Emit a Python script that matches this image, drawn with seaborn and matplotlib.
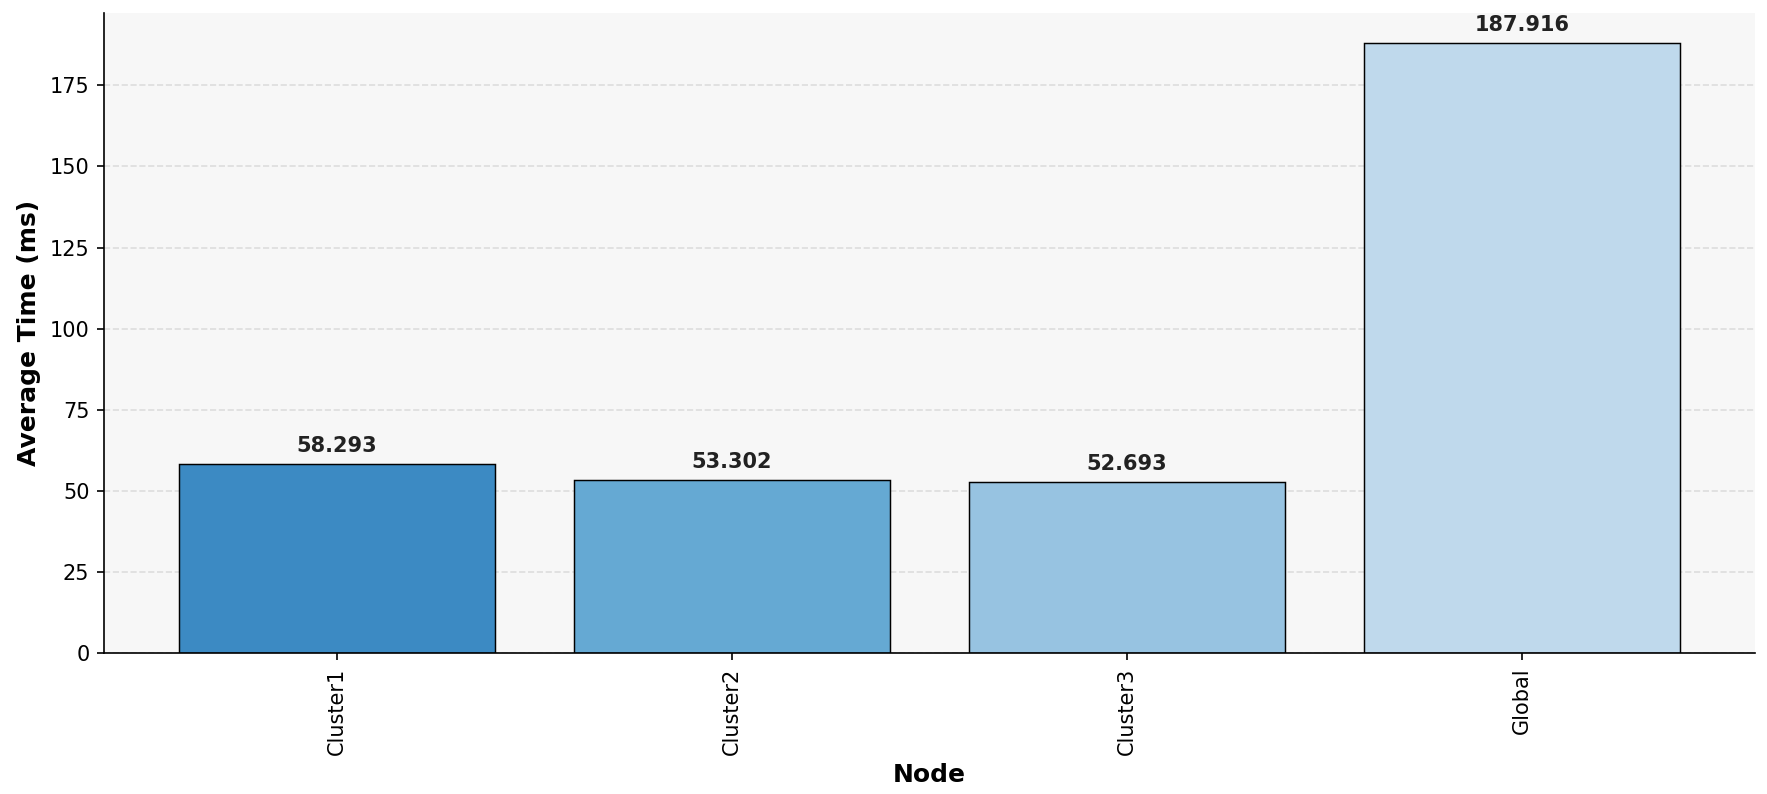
import matplotlib
matplotlib.use('Agg')
import pandas as pd
import seaborn as sns
import matplotlib.pyplot as plt

# values
nodes = ['Cluster1', 'Cluster2', 'Cluster3', 'Global']
avg_time = [58.293, 53.302, 52.693, 187.916]
bar_colors = ['#3c8ac3', '#65a9d3', '#97c3e1', '#bfd9ec']

df = pd.DataFrame({'Node': nodes, 'AvgTime': avg_time})

sns.set_style('ticks')
plt.rcParams['font.family'] = ['DejaVu Sans']
plt.rcParams['text.color'] = 'black'
plt.rcParams['axes.labelcolor'] = 'black'
plt.rcParams['xtick.color'] = 'black'
plt.rcParams['ytick.color'] = 'black'
plt.rcParams['axes.edgecolor'] = 'black'

fig, ax = plt.subplots(figsize=(1767 / 150, 794 / 150), dpi=150)
fig.subplots_adjust(left=0.0589, right=0.9932, top=0.9836, bottom=0.1776)
ax.set_facecolor('#f7f7f7')

sns.barplot(data=df, x='Node', y='AvgTime', hue='Node', palette=bar_colors,
            legend=False, edgecolor='black', linewidth=0.7, width=0.8,
            saturation=1, ax=ax)

# value labels on top of each bar
for i, v in enumerate(avg_time):
    ax.annotate(f'{v:.3f}', (i, v), xytext=(0, 4), textcoords='offset points',
                ha='center', va='bottom', fontsize=10, fontweight='bold',
                color='#222222')

ax.set_xlim(-0.59, 3.59)
ax.set_ylim(0, max(avg_time) * 1.05)
ax.yaxis.grid(True, linestyle='--', color='#dddddd', linewidth=0.8)
ax.set_axisbelow(True)
sns.despine(ax=ax)

ax.set_xlabel('Node', fontsize=12, fontweight='bold')
ax.set_ylabel('Average Time (ms)', fontsize=12, fontweight='bold')
ax.tick_params(axis='x', labelrotation=90, labelsize=10)
ax.tick_params(axis='y', labelsize=10)

fig.savefig('out.png', dpi=150)
plt.close(fig)
